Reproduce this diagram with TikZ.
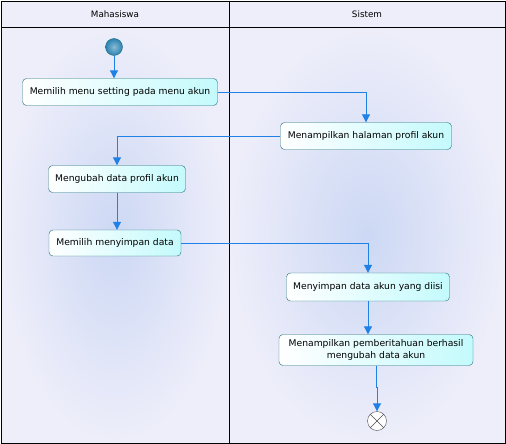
\documentclass[tikz,border=0pt]{standalone}
\usepackage{fontspec}
\setmainfont{DejaVu Sans}
\usepackage{xcolor}
\definecolor{lane}{HTML}{EEEEFA}
\definecolor{laneglow}{HTML}{CCD8F4}
\definecolor{flow}{HTML}{1F80E6}
\definecolor{actborder}{HTML}{206E78}
\definecolor{actfill}{HTML}{C4FAFC}
\definecolor{startball}{HTML}{2A82B2}
\usepackage{tikz}
\usetikzlibrary{arrows.meta, positioning, shapes, calc}

\begin{document}
\begin{tikzpicture}[x=1pt, y=-1pt,
  act/.style={draw=actborder, rounded corners=4pt, left color=white, right color=actfill,
    font=\fontsize{9.2}{12}\selectfont, inner sep=0pt, align=center},
  flowline/.style={draw=flow, line width=1pt, -{Triangle[width=8pt, length=8pt]}}]
  \useasboundingbox (0,0) rectangle (506,444);

  % Swimlanes
  \shade[inner color=laneglow, outer color=lane] (1,27) rectangle (229,443);
  \shade[inner color=laneglow, outer color=lane] (229,27) rectangle (505,443);
  \fill[lane] (1,1) rectangle (505,27);
  \draw[line width=0.8pt] (1,1) rectangle (505,443);
  \draw[line width=0.8pt] (1,27) -- (505,27);
  \draw[line width=0.8pt] (229,1) -- (229,443);
  \node (mhs) at (115,14) {\fontsize{8.8}{11}\selectfont Mahasiswa};
  \node (sys) at (367,14) {\fontsize{8.8}{11}\selectfont Sistem};

  % Start and activities
  \node[circle, draw=actborder, inner color=startball!55!white, outer color=startball, minimum size=17pt, inner sep=0pt] (start) at (114,47) {};
  \node[act, minimum width=195pt, minimum height=27pt] (pilihmenu) at (120,92) {Memilih menu setting pada menu akun};
  \node[act, minimum width=171pt, minimum height=27pt] (tampilprofil) at (366,136) {Menampilkan halaman profil akun};
  \node[act, minimum width=137pt, minimum height=27pt] (ubahdata) at (117,179) {Mengubah data profil akun};
  \node[act, minimum width=132pt, minimum height=26pt] (pilihsimpan) at (115,243) {Memilih menyimpan data};
  \node[act, minimum width=163pt, minimum height=28pt] (simpandata) at (368,287) {Menyimpan data akun yang diisi};
  \node[act, minimum width=194pt, minimum height=31pt] (pemberitahuan) at (376,350) {Menampilkan pemberitahuan berhasil\\mengubah data akun};

  % Final node
  \node[circle, draw=black!70, fill=white, minimum size=19pt, inner sep=0pt] (finish) at (377,421) {};
  \draw[black!70] (finish.45) -- (finish.225) (finish.135) -- (finish.315);

  % Flow
  \draw[flowline] (start) -- (start |- pilihmenu.north);
  \draw[flowline] (pilihmenu.east) -| (tampilprofil.north);
  \draw[flowline] (tampilprofil.west) -| (ubahdata.north);
  \draw[flowline] (ubahdata.south) -- (ubahdata.south |- pilihsimpan.north);
  \draw[flowline] (pilihsimpan.east) -| (simpandata.north);
  \draw[flowline] (simpandata.south) -- (simpandata.south |- pemberitahuan.north);
  \coordinate (tekuk) at ($(pemberitahuan.south)+(0,22)$);
  \draw[flowline] (pemberitahuan.south) -- (tekuk) -| (finish.north);
\end{tikzpicture}
\end{document}
